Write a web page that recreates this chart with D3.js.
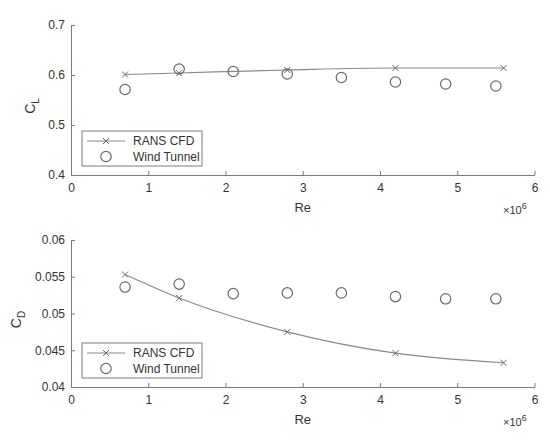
<!DOCTYPE html>
<html>
<head>
<meta charset="utf-8">
<script src="https://cdn.jsdelivr.net/npm/d3@7"></script>
<style>
  body { margin: 0; background: #fff; }
  svg { display: block; font-family: "Liberation Sans", Arial, Helvetica, sans-serif; }
</style>
</head>
<body>
<div id="chart"></div>
<script>
// Reynolds number (x 10^6)
const reCfd = [0.7, 1.4, 2.8, 4.2, 5.6];
const reTunnel = [0.7, 1.4, 2.1, 2.8, 3.5, 4.2, 4.85, 5.5];

// Lift coefficient
const clCfd = [0.601, 0.604, 0.610, 0.614, 0.614];
const clTunnel = [0.571, 0.612, 0.607, 0.602, 0.595, 0.586, 0.582, 0.578];

// Drag coefficient
const cdCfd = [0.0553, 0.0521, 0.0475, 0.0446, 0.0433];
const cdTunnel = [0.0536, 0.0540, 0.0527, 0.0528, 0.0528, 0.0523, 0.0520, 0.0520];

// Ticks
const reTicks = [0, 1, 2, 3, 4, 5, 6];
const clTicks = [0.4, 0.5, 0.6, 0.7];
const cdTicks = [0.04, 0.045, 0.05, 0.055, 0.06];

const legendLabels = ['RANS CFD', 'Wind Tunnel'];

const axisColor = '#7a7a7a';
const textColor = '#333';
const lineColor = '#8a8a8a';
const markerColor = '#6a6a6a';

const svg = d3.select('#chart')
  .append('svg')
  .attr('width', 550)
  .attr('height', 447);

// Draw an x-cross marker
const crossPath = (s) => `M${-s},${-s}L${s},${s}M${-s},${s}L${s},${-s}`;

const drawPanel = (opts) => {
  const x = d3.scaleLinear().domain([0, 6]).range([71, 534.5]);
  const y = d3.scaleLinear().domain(opts.domain).range([opts.bottom, opts.top]);

  // Axes (MATLAB style: ticks inward, box off)
  const gx = svg.append('g')
    .attr('transform', `translate(0,${opts.bottom})`)
    .call(d3.axisBottom(x).tickValues(reTicks).tickFormat((d) => String(d))
      .tickSize(-4).tickSizeOuter(0).tickPadding(8));

  const gy = svg.append('g')
    .attr('transform', `translate(71,0)`)
    .call(d3.axisLeft(y).tickValues(opts.ticks).tickFormat((d) => String(d))
      .tickSize(-4).tickSizeOuter(0).tickPadding(6));

  [gx, gy].forEach((g) => {
    g.select('.domain').attr('stroke', axisColor);
    g.selectAll('.tick line').attr('stroke', axisColor);
    g.selectAll('.tick text').attr('fill', textColor).style('font-size', '12px');
  });

  // X label and exponent
  svg.append('text')
    .attr('x', (71 + 534.5) / 2)
    .attr('y', opts.bottom + 37)
    .attr('text-anchor', 'middle')
    .attr('fill', textColor)
    .style('font-size', '13px')
    .text('Re');

  const expo = svg.append('text')
    .attr('x', 503)
    .attr('y', opts.bottom + 39)
    .attr('fill', textColor)
    .style('font-size', '11px');
  expo.append('tspan').text('\u00d710');
  expo.append('tspan').attr('dy', -5).style('font-size', '9px').text('6');

  // Y label with subscript
  const ylab = svg.append('text')
    .attr('transform', `translate(${opts.labelX},${(opts.top + opts.bottom) / 2 + 6}) rotate(-90)`)
    .attr('text-anchor', 'middle')
    .attr('fill', textColor)
    .style('font-size', '14px');
  ylab.append('tspan').text('C');
  ylab.append('tspan').attr('dy', 4).style('font-size', '10px').text(opts.sub);

  // CFD line
  const cfd = reCfd.map((r, i) => [r, opts.cfd[i]]);
  const line = d3.line()
    .x((d) => x(d[0]))
    .y((d) => y(d[1]))
    .curve(d3.curveMonotoneX);

  svg.append('path')
    .datum(cfd)
    .attr('fill', 'none')
    .attr('stroke', lineColor)
    .attr('stroke-width', 1.2)
    .attr('d', line);

  svg.append('g')
    .selectAll('path')
    .data(cfd)
    .enter()
    .append('path')
    .attr('transform', (d) => `translate(${x(d[0])},${y(d[1])})`)
    .attr('d', crossPath(3))
    .attr('stroke', markerColor)
    .attr('stroke-width', 1)
    .attr('fill', 'none');

  // Wind tunnel markers
  svg.append('g')
    .selectAll('circle')
    .data(reTunnel.map((r, i) => [r, opts.tunnel[i]]))
    .enter()
    .append('circle')
    .attr('cx', (d) => x(d[0]))
    .attr('cy', (d) => y(d[1]))
    .attr('r', 5.2)
    .attr('fill', 'none')
    .attr('stroke', markerColor)
    .attr('stroke-width', 1.2);

  // Legend
  const legend = svg.append('g').attr('transform', `translate(82,${opts.bottom - 44})`);
  legend.append('rect')
    .attr('width', 120)
    .attr('height', 35)
    .attr('fill', '#fff')
    .attr('stroke', axisColor)
    .attr('stroke-width', 1);

  legend.append('line')
    .attr('x1', 5).attr('x2', 43)
    .attr('y1', 10).attr('y2', 10)
    .attr('stroke', lineColor)
    .attr('stroke-width', 1.2);
  legend.append('path')
    .attr('transform', 'translate(24,10)')
    .attr('d', crossPath(3))
    .attr('stroke', markerColor)
    .attr('fill', 'none');
  legend.append('circle')
    .attr('cx', 24).attr('cy', 25.5).attr('r', 5.2)
    .attr('fill', 'none')
    .attr('stroke', markerColor)
    .attr('stroke-width', 1.2);

  legendLabels.forEach((label, i) => {
    legend.append('text')
      .attr('x', 51)
      .attr('y', 14 + i * 15.5)
      .attr('fill', textColor)
      .style('font-size', '12px')
      .text(label);
  });
};

drawPanel({ top: 25, bottom: 175, domain: [0.4, 0.7], ticks: clTicks,
  cfd: clCfd, tunnel: clTunnel, sub: 'L', labelX: 35 });
drawPanel({ top: 240, bottom: 387, domain: [0.04, 0.06], ticks: cdTicks,
  cfd: cdCfd, tunnel: cdTunnel, sub: 'D', labelX: 21 });
</script>
</body>
</html>
